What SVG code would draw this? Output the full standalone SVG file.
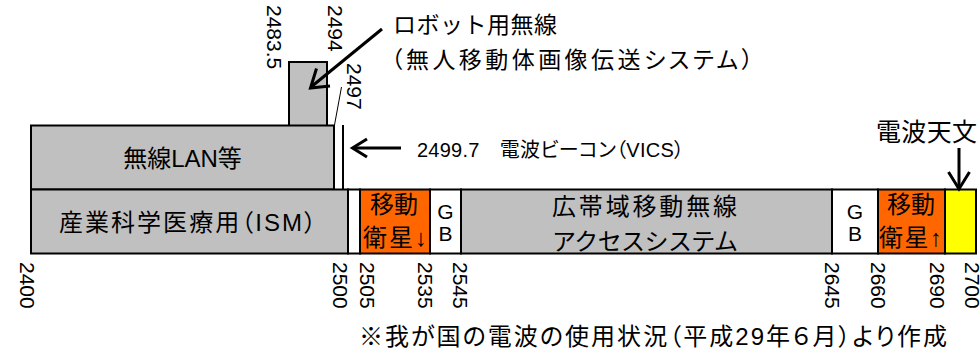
<svg xmlns="http://www.w3.org/2000/svg" width="980" height="356" viewBox="0 0 980 356">
<style>
text{font-family:'Liberation Sans','Noto Sans CJK JP',sans-serif;fill:#000}
.p{font-feature-settings:'palt' 1}
.b{stroke:#000;stroke-width:2}
.g{fill:#C0C0C0}
.o{fill:#FF6600}
.w{fill:#FFFFFF}
.y{fill:#FFFF00}
.t24{font-size:24px}
.num{font-size:21px}
.arr{fill:none;stroke:#000;stroke-width:3;stroke-linecap:butt;stroke-linejoin:miter}
</style>
<rect width="980" height="356" fill="#fff"/>
<g id="robot-block"><rect class="b g" x="289" y="62" width="38" height="64"/></g>
<g id="wlan"><rect class="b g" x="31" y="125.5" width="303" height="64"/>
<text class="t24" x="182.5" y="167" text-anchor="middle">無線LAN等</text></g>
<g id="ism"><rect class="b g" x="31" y="189.5" width="317" height="64"/>
<text class="t24 p" x="59" y="231" textLength="257">産業科学医療用（ISM）</text></g>
<g id="gap1"><rect class="b w" x="348" y="189.5" width="12" height="64"/></g>
<g id="sat-down"><rect class="b o" x="360" y="189.5" width="70" height="64"/>
<text class="t24" x="394" y="213" text-anchor="middle">移動</text>
<text class="t24" x="395" y="246" text-anchor="middle" textLength="64">衛星↓</text></g>
<g id="gb1"><rect class="b w" x="430" y="189.5" width="31" height="64"/>
<text class="num" x="445.5" y="219" text-anchor="middle">G</text>
<text class="num" x="445.5" y="240.5" text-anchor="middle">B</text></g>
<g id="bwa"><rect class="b g" x="461" y="189.5" width="371" height="64"/>
<text class="t24" x="644.5" y="215" text-anchor="middle" textLength="185">広帯域移動無線</text>
<text class="t24" x="645" y="249.5" text-anchor="middle" textLength="186">アクセスシステム</text></g>
<g id="gb2"><rect class="b w" x="832" y="189.5" width="46" height="64"/>
<text class="num" x="855" y="219" text-anchor="middle">G</text>
<text class="num" x="855" y="240.5" text-anchor="middle">B</text></g>
<g id="sat-up"><rect class="b o" x="878" y="189.5" width="67" height="64"/>
<text class="t24" x="911" y="213" text-anchor="middle">移動</text>
<text class="t24" x="910.5" y="246" text-anchor="middle" textLength="63">衛星↑</text></g>
<g id="radio-astronomy"><rect class="b y" x="945" y="189.5" width="31" height="64"/>
<text x="876" y="140.5" style="font-size:25px" textLength="101">電波天文</text></g>
<g id="vics"><line x1="343" y1="125" x2="343" y2="189" stroke="#000" stroke-width="2"/>
<text class="p" x="417" y="157" style="font-size:20px" textLength="267">2499.7　電波ビーコン（VICS）</text></g>
<g id="robot-label">
<text x="393" y="33" style="font-size:23px" textLength="164">ロボット用無線</text>
<text class="p" x="391" y="68" style="font-size:23px" textLength="362">（無人移動体画像伝送システム）</text></g>
<g id="freq-labels" class="num">
<text transform="translate(267,5) rotate(90)">2483.5</text>
<text transform="translate(328,5) rotate(90)">2494</text>
<text transform="translate(347,63) rotate(90)">2497</text>
<text transform="translate(20,262) rotate(90)">2400</text>
<text transform="translate(333,262) rotate(90)">2500</text>
<text transform="translate(360,262) rotate(90)">2505</text>
<text transform="translate(418,262) rotate(90)">2535</text>
<text transform="translate(453,262) rotate(90)">2545</text>
<text transform="translate(825,262) rotate(90)">2645</text>
<text transform="translate(871,262) rotate(90)">2660</text>
<text transform="translate(930,262) rotate(90)">2690</text>
<text transform="translate(965,262) rotate(90)">2700</text>
</g>
<g id="connectors">
<line x1="334.5" y1="125" x2="341.5" y2="87" stroke="#000" stroke-width="1"/>
<line class="arr" x1="382" y1="29" x2="311" y2="87"/>
<polyline class="arr" points="316.5,68.5 310.5,88 330,86"/>
<line class="arr" x1="401" y1="148" x2="354" y2="148"/>
<polyline class="arr" points="367,139 352.5,148 367,157"/>
<line class="arr" x1="959" y1="148" x2="959" y2="187"/>
<polyline class="arr" points="948.5,172 959,189 969.5,172"/>
</g>
<g id="note"><text x="359" y="344.5" class="t24 p" textLength="588">※我が国の電波の使用状況（平成29年６月）より作成</text></g>
</svg>
